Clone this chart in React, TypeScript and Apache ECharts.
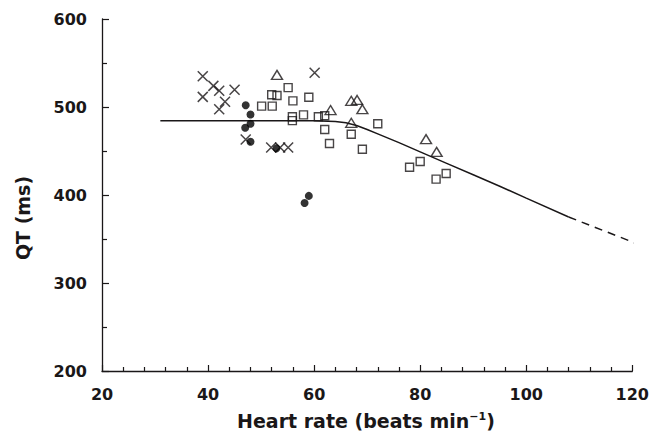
import React, { useEffect, useRef } from "react";
import * as echarts from "echarts";

// Heart rate (beats/min), QT (ms)
const crossHR = [39, 41, 42.1, 45, 39, 43.2, 42.1, 47.1, 51.9, 53.6, 55.1, 60.1];
const crossQT = [535, 524, 518.5, 519.5, 511.5, 506, 497.5, 463, 454, 454, 454, 539];

const dotHR = [47.1, 48, 48, 47, 48, 52.9, 58.2, 59];
const dotQT = [502, 491.5, 481, 476.5, 460.5, 453, 391, 399];

const squareHR = [50.1, 52.1, 52, 53, 55.1, 56, 59, 55.9, 55.9, 58, 60.8, 62, 62, 62.9, 67, 69.1, 72, 78, 80, 84.9, 83];
const squareQT = [501, 501, 514, 513, 522, 507, 511, 489, 484.5, 491, 489, 490, 474.5, 458.5, 469, 452, 481, 431.5, 438, 424.5, 418];

const triHR = [53, 63.1, 67, 68.1, 69.1, 67, 81.1, 83.1];
const triQT = [536.5, 496.5, 507, 508, 497.5, 482, 463.5, 449];

const curveHR = [31, 50, 60, 64, 66, 68, 70, 72, 76, 80, 85, 90, 95, 100, 108];
const curveQT = [484.5, 484.5, 484.5, 483.5, 482, 479, 474.5, 469.5, 459.5, 449, 436, 423, 410, 396.5, 375];

const dashHR = [108, 120.5];
const dashQT = [375, 345.5];

const xTicks = [20, 40, 60, 80, 100, 120];
const yTicks = [200, 300, 400, 500, 600];

const zip = (a: number[], b: number[]) => a.map((v, i) => [v, b[i]]);

const FONT = "'DejaVu Sans'";
const INK = "#1a1718";

export default function App() {
  const ref = useRef<HTMLDivElement>(null);
  useEffect(() => {
    if (!ref.current) return;
    const chart = echarts.init(ref.current, null, { renderer: "svg" });
    chart.setOption({
      animation: false,
      backgroundColor: "#ffffff",
      grid: { left: 102, right: 19, top: 19, bottom: 66, containLabel: false },
      xAxis: {
        type: "value",
        min: xTicks[0],
        max: xTicks[xTicks.length - 1],
        interval: 20,
        axisLine: { show: true, onZero: false, lineStyle: { color: INK, width: 1.3 } },
        axisTick: { show: true, inside: true, length: 6, lineStyle: { color: INK, width: 1.2 } },
        minorTick: { show: true, splitNumber: 5, length: 4, lineStyle: { color: INK, width: 1.2 } },
        splitLine: { show: false },
        axisLabel: { color: INK, fontFamily: FONT, fontWeight: "bold", fontSize: 16, margin: 15 },
      },
      yAxis: {
        type: "value",
        min: yTicks[0],
        max: yTicks[yTicks.length - 1],
        interval: 100,
        axisLine: { show: true, onZero: false, lineStyle: { color: INK, width: 1.3 } },
        axisTick: { show: true, inside: true, length: 7, lineStyle: { color: INK, width: 1.2 } },
        minorTick: { show: true, splitNumber: 2, length: 5, lineStyle: { color: INK, width: 1.2 } },
        splitLine: { show: false },
        axisLabel: { color: INK, fontFamily: FONT, fontWeight: "bold", fontSize: 16, margin: 15 },
      },
      graphic: [
        {
          type: "text",
          x: 23,
          y: 218,
          rotation: Math.PI / 2,
          style: {
            text: "QT (ms)",
            fill: INK,
            font: `bold 19px ${FONT}`,
            align: "center",
            verticalAlign: "middle",
          },
        },
        {
          type: "text",
          x: 366,
          y: 421,
          style: {
            text: "{a|Heart rate (beats min}{s|−1}{a|)}",
            fill: INK,
            align: "center",
            verticalAlign: "middle",
            rich: {
              a: { fontFamily: FONT, fontWeight: "bold", fontSize: 19, fill: INK },
              s: { fontFamily: FONT, fontWeight: "bold", fontSize: 11, fill: INK, verticalAlign: "top", padding: [0, 0, 10, 0] },
            },
          },
        },
      ],
      series: [
        {
          type: "line",
          data: zip(curveHR, curveQT),
          showSymbol: false,
          smooth: false,
          lineStyle: { color: INK, width: 1.5 },
          z: 1,
        },
        {
          type: "line",
          data: zip(dashHR, dashQT),
          showSymbol: false,
          lineStyle: { color: INK, width: 1.5, type: [8, 6] },
          z: 1,
        },
        {
          type: "scatter",
          data: zip(crossHR, crossQT),
          symbol: "path://M0,0L10,10M10,0L0,10",
          symbolSize: 10,
          itemStyle: { color: "none", borderColor: INK, borderWidth: 1.5 },
          z: 3,
        },
        {
          type: "scatter",
          data: zip(dotHR, dotQT),
          symbol: "circle",
          symbolSize: 8,
          itemStyle: { color: "#000000" },
          z: 4,
        },
        {
          type: "scatter",
          data: zip(squareHR, squareQT),
          symbol: "rect",
          symbolSize: 8,
          itemStyle: { color: "rgba(255,255,255,0)", borderColor: INK, borderWidth: 1.4 },
          z: 3,
        },
        {
          type: "scatter",
          data: zip(triHR, triQT),
          symbol: "triangle",
          symbolSize: [11, 9],
          itemStyle: { color: "rgba(255,255,255,0)", borderColor: INK, borderWidth: 1.4 },
          z: 3,
        },
      ],
    });
    return () => chart.dispose();
  }, []);
  return <div ref={ref} style={{ width: 652, height: 437, position: "absolute", left: 0, top: 0 }} />;
}
